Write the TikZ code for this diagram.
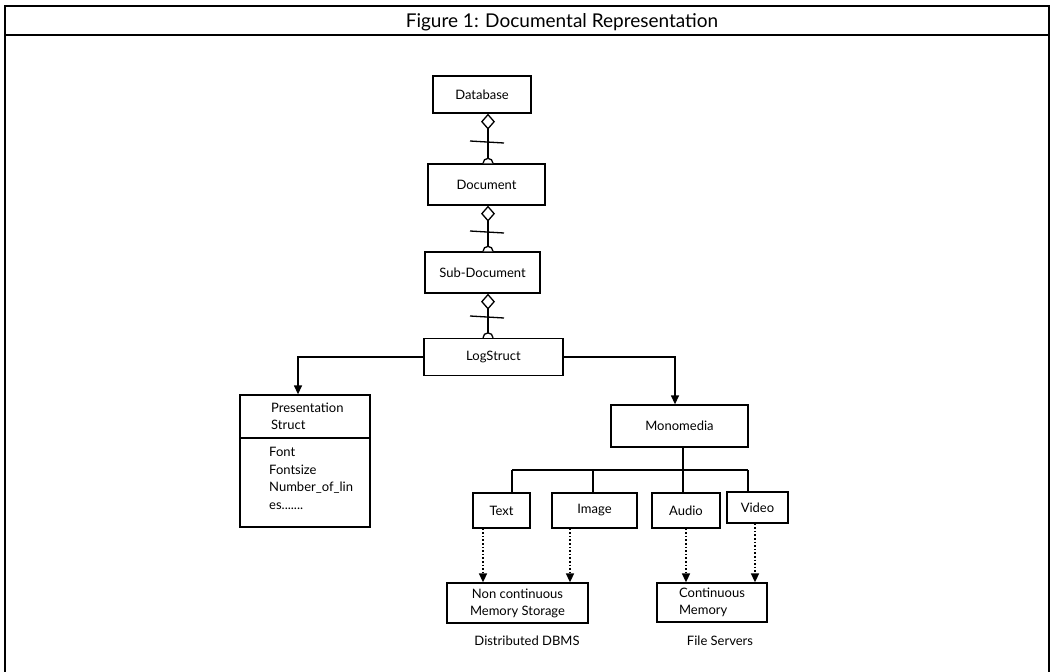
\documentclass[tikz,border=0pt]{standalone}
\usepackage{fontspec}
\setmainfont{Lato}
\usetikzlibrary{arrows.meta,calc}
\newcommand\compconn[3]{%
  \draw[conn, {Diamond[open,length=16pt,width=14pt,line width=1.3pt]}-] (cx |- #1.south) -- (cx |- #2.north);
  \draw[conn] ($(cx |- 0,#3)+(-18,-1)$) -- ($(cx |- 0,#3)+(16,1)$);
  \draw[conn, fill=white] ($(cx |- #2.north)+(-5,0)$) arc[start angle=180, end angle=360, radius=5];
}
\begin{document}
\begin{tikzpicture}[x=1pt,y=-1pt,
  box/.style={draw, line width=1.3pt, rectangle, inner sep=2pt, font=\fontsize{13}{17}\selectfont, align=center},
  conn/.style={line width=1.3pt},
  arr/.style={conn, -{Triangle[length=9pt,width=8pt]}},
  dotarr/.style={line width=1.6pt, dotted, -{Triangle[length=9pt,width=8pt]}},
  lbl/.style={font=\fontsize{13}{17}\selectfont, inner sep=0pt, align=left},
]
\useasboundingbox (0,0) rectangle (1053,672);
\draw[line width=1.8pt] (5,672) -- (5,6) -- (1049,6) -- (1049,672);
\draw[line width=1.8pt] (5,35) -- (1049,35);
\node[font=\fontsize{19}{22}\selectfont, inner sep=0pt] (title) at (562,22) {Figure 1: Documental Representation};

\coordinate (cx) at (488,0);
\node[box, minimum width=98pt, minimum height=37pt] (db) at (482,94.5) {Database};
\node[box, minimum width=117pt, minimum height=41pt] (doc) at (486.5,184.5) {Document};
\node[box, minimum width=115pt, minimum height=41pt] (sub) at (482.5,272.5) {Sub-Document};
\node[box, minimum width=139pt, minimum height=37pt] (ls) at (493.5,357) {LogStruct};

\compconn{db}{doc}{142}
\compconn{doc}{sub}{232}
\compconn{sub}{ls}{317}

% Presentation Struct
\node[draw, line width=1.3pt, rectangle, minimum width=130pt, minimum height=132pt] (pres) at (305,461) {};
\coordinate (dv) at (0,438);
\draw[conn] (pres.west |- dv) -- (pres.east |- dv);
\node[lbl, anchor=west] (prh) at (271,416.5) {Presentation\\Struct};
\node[lbl, anchor=west, font=\fontsize{13}{17.7}\selectfont] (pra) at (269,478.5) {Font\\Fontsize\\Number\_of\_lin\\es.......};

\node[box, minimum width=137pt, minimum height=42pt] (mono) at (679.5,426) {Monomedia};

\draw[arr] (ls.west) -| ([xshift=-7pt]pres.north);
\draw[arr] (ls.east) -| ([xshift=-4.5pt]mono.north);

\node[box, minimum width=57pt, minimum height=35pt] (text) at (501.5,510.5) {Text};
\node[box, minimum width=85pt, minimum height=35pt] (img) at (594.5,510.5) {Image};
\node[box, minimum width=68pt, minimum height=35pt] (aud) at (686,510.5) {Audio};
\node[box, minimum width=61pt, minimum height=31pt] (vid) at (757.5,507.5) {Video};

\coordinate (bl) at (512,470);
\coordinate (ib) at (593,470);
\coordinate (br) at (748,470);
\draw[conn] (bl) -- (br);
\draw[conn] (bl) -- (bl |- text.north);
\draw[conn] (ib) -- (ib |- img.north);
\draw[conn] (br) -- (br |- vid.north);
\draw[conn] ([xshift=3.5pt]mono.south) -- ([xshift=3.5pt]mono.south |- aud.north);

\node[box, minimum width=141pt, minimum height=40pt] (nc) at (517.5,603) {Non continuous\\Memory Storage};
\node[box, minimum width=110pt, minimum height=39pt, align=left] (cm) at (712,602.5) {Continuous\\Memory};

\draw[dotarr] ([xshift=-18.5pt]text.south) -- ([xshift=-18.5pt]text.south |- nc.north);
\draw[dotarr] ([xshift=-24.5pt]img.south) -- ([xshift=-24.5pt]img.south |- nc.north);
\draw[dotarr] (aud.south) -- (aud.south |- cm.north);
\draw[dotarr] ([xshift=-2.5pt]vid.south) -- ([xshift=-2.5pt]vid.south |- cm.north);

\node[lbl] (ddbms) at (527,641) {Distributed DBMS};
\node[lbl] (fs) at (720,641) {File Servers};
\end{tikzpicture}
\end{document}
